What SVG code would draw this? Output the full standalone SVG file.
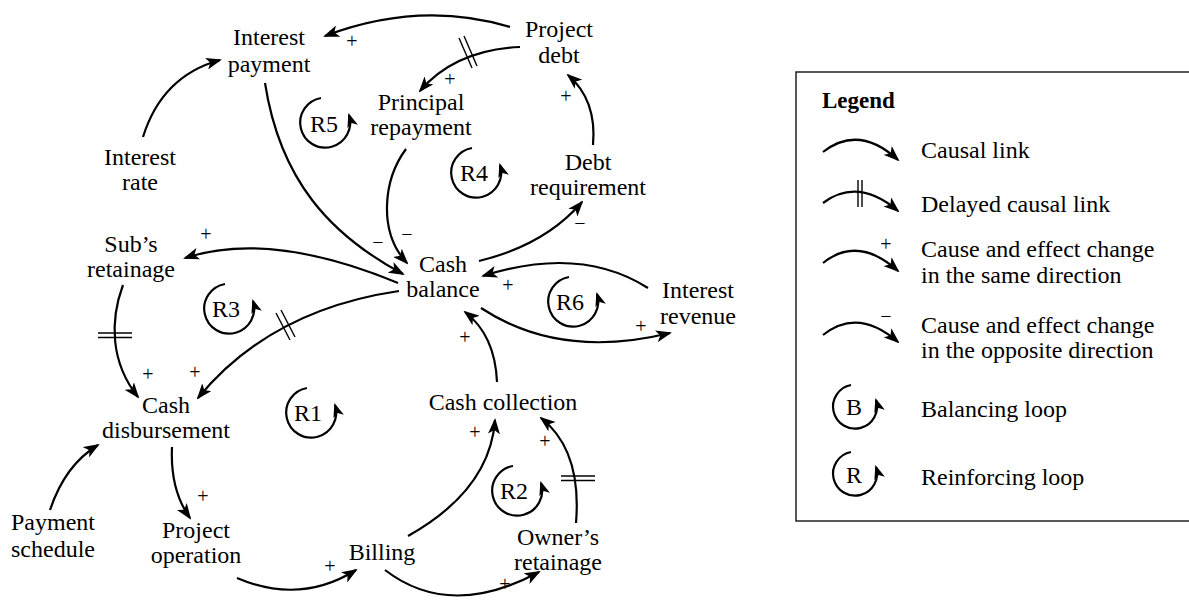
<svg xmlns="http://www.w3.org/2000/svg" width="1189" height="600" viewBox="0 0 1189 600">
<style>
text{font-family:"Liberation Serif","Times New Roman",serif;font-size:24px;fill:#000}
.n{text-anchor:middle}
.s{font-size:20px;text-anchor:middle}
.c{fill:none;stroke:#000;stroke-width:2.2;marker-end:url(#ah)}
.l{fill:none;stroke:#000;stroke-width:2.2;marker-end:url(#lh)}
.d{stroke:#000;stroke-width:1.4}
.lg{font-weight:bold;font-size:23px}
</style>
<defs>
<marker id="ah" markerUnits="userSpaceOnUse" markerWidth="16" markerHeight="12" viewBox="0 0 16 12" refX="14" refY="6" orient="auto">
<path d="M0,0 L16,6 L0,12 L4,6 z" fill="#000"/>
</marker>
<marker id="lh" markerUnits="userSpaceOnUse" markerWidth="14" markerHeight="11" viewBox="0 0 14 11" refX="12" refY="5.5" orient="auto">
<path d="M0,0 L14,5.5 L0,11 L3.5,5.5 z" fill="#000"/>
</marker>
</defs>

<g id="connectors">
<path class="c" d="M510,27 Q420,0 325,36"/>
<path class="c" d="M520,47 Q455,50 420,91"/>
<line class="d" x1="459" y1="38" x2="472" y2="68"/>
<line class="d" x1="464" y1="36" x2="477" y2="66"/>
<path class="c" d="M143,137 Q162,76 220,60"/>
<path class="c" d="M265,83 C280,180 330,235 403,274"/>
<path class="c" d="M406,149 C383,180 378,232 407,263"/>
<path class="c" d="M479,261 Q545,245 582,202"/>
<path class="c" d="M593,145 Q597,100 568,75"/>
<path class="c" d="M398,283 Q270,230 185,258"/>
<path class="c" d="M399,291 Q270,310 198,398"/>
<line class="d" x1="276" y1="313" x2="290" y2="340"/>
<line class="d" x1="281" y1="310" x2="295" y2="337"/>
<path class="c" d="M123,285 C110,320 110,362 138,397"/>
<line class="d" x1="98" y1="333" x2="132" y2="333"/>
<line class="d" x1="98" y1="337.5" x2="132" y2="337.5"/>
<path class="c" d="M648,288 Q580,245 483,276"/>
<path class="c" d="M481,308 Q560,360 670,333"/>
<path class="c" d="M497,382 Q495,335 465,312"/>
<path class="c" d="M172,447 Q170,490 190,518"/>
<path class="c" d="M50,510 Q65,465 98,445"/>
<path class="c" d="M237,578 Q300,605 356,570"/>
<path class="c" d="M408,536 Q490,490 495,420"/>
<path class="c" d="M385,570 Q450,620 539,572"/>
<path class="c" d="M576,523 Q582,450 541,418"/>
<line class="d" x1="561" y1="476" x2="595" y2="476"/>
<line class="d" x1="561" y1="480.5" x2="595" y2="480.5"/>
</g>

<g id="polarities">
<text class="s" x="352" y="48">+</text>
<text class="s" x="450" y="86">+</text>
<text class="s" x="566" y="103">+</text>
<text class="s" x="378" y="249">−</text>
<text class="s" x="407" y="241">−</text>
<text class="s" x="580" y="230">−</text>
<text class="s" x="206" y="241">+</text>
<text class="s" x="148" y="381">+</text>
<text class="s" x="195" y="379">+</text>
<text class="s" x="508" y="292">+</text>
<text class="s" x="641" y="333">+</text>
<text class="s" x="465" y="344">+</text>
<text class="s" x="203" y="503">+</text>
<text class="s" x="330" y="573">+</text>
<text class="s" x="475" y="439">+</text>
<text class="s" x="545" y="448">+</text>
<text class="s" x="505" y="591">+</text>
</g>

<g id="interest-payment"><text class="n" x="269" y="45">Interest</text><text class="n" x="269" y="72">payment</text></g>
<g id="project-debt"><text class="n" x="559" y="37">Project</text><text class="n" x="559" y="63">debt</text></g>
<g id="principal-repayment"><text class="n" x="421" y="110">Principal</text><text class="n" x="421" y="135">repayment</text></g>
<g id="interest-rate"><text class="n" x="140" y="165">Interest</text><text class="n" x="140" y="190">rate</text></g>
<g id="debt-requirement"><text class="n" x="588" y="170">Debt</text><text class="n" x="588" y="195">requirement</text></g>
<g id="subs-retainage"><text class="n" x="131" y="252">Sub’s</text><text class="n" x="131" y="277">retainage</text></g>
<g id="cash-balance"><text class="n" x="443" y="272">Cash</text><text class="n" x="443" y="297">balance</text></g>
<g id="interest-revenue"><text class="n" x="698" y="298">Interest</text><text class="n" x="698" y="324">revenue</text></g>
<g id="cash-collection"><text class="n" x="503" y="410">Cash collection</text></g>
<g id="cash-disbursement"><text class="n" x="166" y="413">Cash</text><text class="n" x="166" y="438">disbursement</text></g>
<g id="payment-schedule"><text class="n" x="53" y="530">Payment</text><text class="n" x="53" y="557">schedule</text></g>
<g id="project-operation"><text class="n" x="196" y="538">Project</text><text class="n" x="196" y="563">operation</text></g>
<g id="billing"><text class="n" x="382" y="560">Billing</text></g>
<g id="owners-retainage"><text class="n" x="558" y="545">Owner’s</text><text class="n" x="558" y="570">retainage</text></g>

<g id="loop-R5"><path class="l" d="M321,98 A25,25 0 1 0 349,115"/><text class="n" x="324" y="132">R5</text></g>
<g id="loop-R4"><path class="l" d="M472,148 A25,25 0 1 0 500,165"/><text class="n" x="474" y="181">R4</text></g>
<g id="loop-R3"><path class="l" d="M225,284 A25,25 0 1 0 253,301"/><text class="n" x="226" y="317">R3</text></g>
<g id="loop-R6"><path class="l" d="M569,277 A25,25 0 1 0 597,294"/><text class="n" x="570" y="310">R6</text></g>
<g id="loop-R1"><path class="l" d="M307,388 A25,25 0 1 0 335,405"/><text class="n" x="308" y="421">R1</text></g>
<g id="loop-R2"><path class="l" d="M513,466 A25,25 0 1 0 541,483"/><text class="n" x="514" y="499">R2</text></g>

<g id="legend">
<rect x="796" y="72" width="420" height="449" fill="none" stroke="#222" stroke-width="1.5"/>
<text class="lg" x="822" y="108">Legend</text>
<path class="c" d="M823,152 Q859,124 898,160"/>
<text x="921" y="158">Causal link</text>
<path class="c" d="M823,203 Q858,177 898,211"/>
<line class="d" x1="858" y1="180" x2="858" y2="207"/>
<line class="d" x1="862" y1="180" x2="862" y2="207"/>
<text x="921" y="212">Delayed causal link</text>
<path class="c" d="M823,263 Q858,235 898,271"/>
<text class="s" x="886" y="251">+</text>
<text x="921" y="257">Cause and effect change</text>
<text x="921" y="283">in the same direction</text>
<path class="c" d="M823,335 Q858,307 898,342"/>
<text class="s" x="886" y="323">−</text>
<text x="921" y="333">Cause and effect change</text>
<text x="921" y="358">in the opposite direction</text>
<path class="l" d="M851,385 A22,22 0 1 0 876,400"/>
<text class="n" x="854" y="415">B</text>
<text x="921" y="417">Balancing loop</text>
<path class="l" d="M851,452 A22,22 0 1 0 876,467"/>
<text class="n" x="854" y="483">R</text>
<text x="921" y="485">Reinforcing loop</text>
</g>
</svg>
